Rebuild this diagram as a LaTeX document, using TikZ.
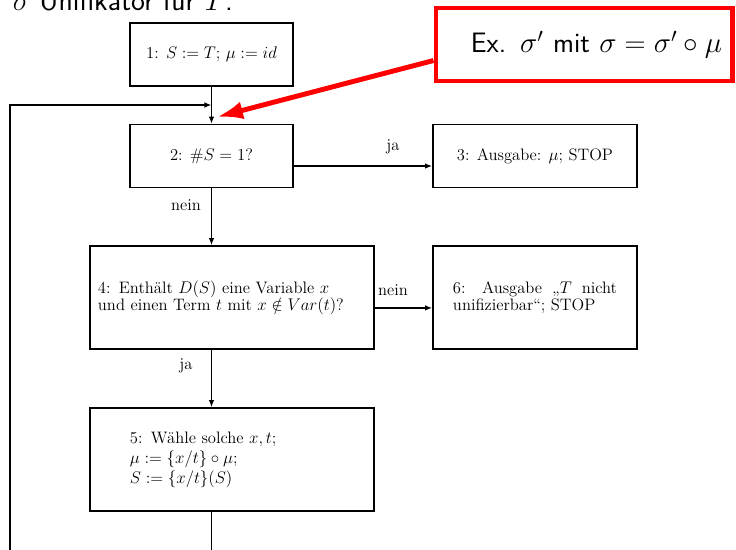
\documentclass[tikz,border=0pt]{standalone}
\usetikzlibrary{arrows.meta}
\tikzset{
	stepbox/.style={draw,line width=1.3pt,inner sep=0pt,font=\fontsize{11.8}{12.2}\selectfont},
	conn/.style={line width=.9pt,-{Latex[length=5pt,width=4pt]}},
	rueckpfeil/.style={line width=1.8pt,-{Latex[length=5pt,width=4pt]}},
	lbl/.style={font=\fontsize{11.8}{12}\selectfont},
}
\begin{document}
\begin{tikzpicture}[x=0.025cm,y=-0.025cm]
	%unifikation.pdf
	\useasboundingbox (0,0) rectangle (736,549);
	\node [anchor=base west,font=\sffamily\fontsize{21}{25}\selectfont] (kopf) at (8,10) {$\sigma$ Unifikator für $T$:};
	\node [stepbox,minimum width=4.075cm,minimum height=1.575cm] (b1) at (211.5,54.5) {1: $S:=T$; $\mu:=id$};
	\node [stepbox,minimum width=4.075cm,minimum height=1.575cm] (b2) at (211.5,156) {2: $\#S=1$?};
	\node [stepbox,minimum width=5.1cm,minimum height=1.575cm] (b3) at (535,156) {3: Ausgabe: $\mu$; STOP};
	\node [stepbox,text width=6.7cm,inner xsep=.2cm,minimum height=2.575cm,align=left] (b4) at (232,297.5)
		{4: Enthält $D(S)$ eine Variable $x$\\und einen Term $t$ mit $x\notin Var(t)$?};
	\node [stepbox,text width=4.1cm,inner xsep=.5cm,minimum height=2.575cm,align=justify] (b6) at (535,297.5)
		{6: Ausgabe „$T$ nicht\linebreak unifizierbar“; STOP};
	\node [stepbox,text width=5.1cm,inner xsep=1cm,minimum height=2.575cm,align=left] (b5) at (232,459.5)
		{5: Wähle solche $x,t$;\\[2pt]$\mu:=\{x/t\}\circ\mu$;\\[2pt]$S:=\{x/t\}(S)$};
	\node [draw=red,line width=3.5pt,text width=6.9cm,inner xsep=.25cm,minimum height=1.825cm,align=right,
		font=\sffamily\fontsize{20}{24}\selectfont] (ex) at (584,44.5) {\mbox{Ex. $\sigma'$ mit $\sigma=\sigma'\circ\mu$}};
	\coordinate (extip) at (217,117);
	\coordinate (unten) at (10,580);
	\coordinate (rueck) at (10,105);
	\draw [conn] (b1) -- (b2);
	\draw [conn] ([yshift=-2.5mm]b2.east) -- ([yshift=-2.5mm]b3.west);
	\draw [conn] (b2) -- (b1 |- b4.north);
	\draw [conn] ([yshift=-2.6mm]b4.east) -- ([yshift=-2.6mm]b6.west);
	\draw [conn] (b1 |- b4.south) -- (b1 |- b5.north);
	\draw [line width=.9pt] (b1 |- b5.south) -- (b1 |- unten);
	\draw [rueckpfeil] (unten) -- (rueck) -- (b1 |- rueck);
	\draw [red,line width=3.5pt,-{Latex[length=.65cm,width=.45cm]}] ([yshift=-4mm]ex.west) -- (extip);
	\node [lbl] (ja1) at (393,147) {ja};
	\node [lbl] (nein1) at (186,205) {nein};
	\node [lbl] (nein2) at (393,290) {nein};
	\node [lbl] (ja2) at (186,366) {ja};
\end{tikzpicture}
\end{document}
